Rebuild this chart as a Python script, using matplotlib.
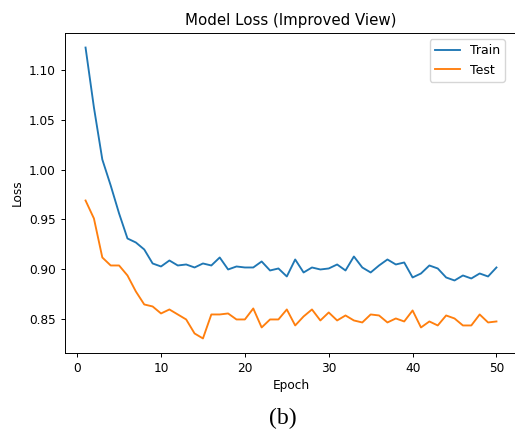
import matplotlib
matplotlib.use('Agg')
import matplotlib.pyplot as plt
import numpy as np

epochs = list(range(1, 51))

train_loss = [1.122, 1.062, 1.010, 0.984, 0.956, 0.931, 0.927, 0.920, 0.906, 0.903,
              0.909, 0.904, 0.905, 0.902, 0.906, 0.904, 0.912, 0.900, 0.903, 0.902,
              0.902, 0.908, 0.899, 0.901, 0.893, 0.910, 0.897, 0.902, 0.900, 0.901,
              0.905, 0.899, 0.913, 0.902, 0.897, 0.904, 0.910, 0.905, 0.907, 0.892,
              0.896, 0.904, 0.901, 0.892, 0.889, 0.894, 0.891, 0.896, 0.893, 0.902]

test_loss = [0.969, 0.951, 0.912, 0.904, 0.904, 0.894, 0.878, 0.865, 0.863, 0.856,
             0.860, 0.855, 0.850, 0.836, 0.831, 0.855, 0.855, 0.856, 0.850, 0.850,
             0.861, 0.842, 0.850, 0.850, 0.860, 0.844, 0.853, 0.860, 0.849, 0.857,
             0.849, 0.854, 0.849, 0.847, 0.855, 0.854, 0.847, 0.851, 0.848, 0.859,
             0.842, 0.848, 0.844, 0.854, 0.851, 0.844, 0.844, 0.855, 0.847, 0.848]

fig = plt.figure(figsize=(5.15, 4.32), dpi=100)
ax = fig.add_axes([65 / 515, 79 / 432, 452 / 515, 320 / 432])

ax.plot(epochs, train_loss, label='Train', lw=1.35)
ax.plot(epochs, test_loss, label='Test', lw=1.35)

ax.set_title('Model Loss (Improved View)', fontsize=10.8, pad=6)
ax.set_xlabel('Epoch', fontsize=8.7, labelpad=3)
ax.set_ylabel('Loss', fontsize=8.7, labelpad=4)
ax.tick_params(labelsize=8.7, length=3.2, width=0.7)
for s in ax.spines.values():
    s.set_linewidth(0.7)
# the picture is cut off just before the right spine
ax.spines['right'].set_visible(False)
ax.legend(fontsize=9, loc='upper right', bbox_to_anchor=(0.987, 1.0))

fig.text(283 / 515, 1 - 418 / 432, '(b)', family='Liberation Serif',
         fontsize=17, ha='center', va='center')

plt.savefig('out.png', dpi=100)
plt.close()
